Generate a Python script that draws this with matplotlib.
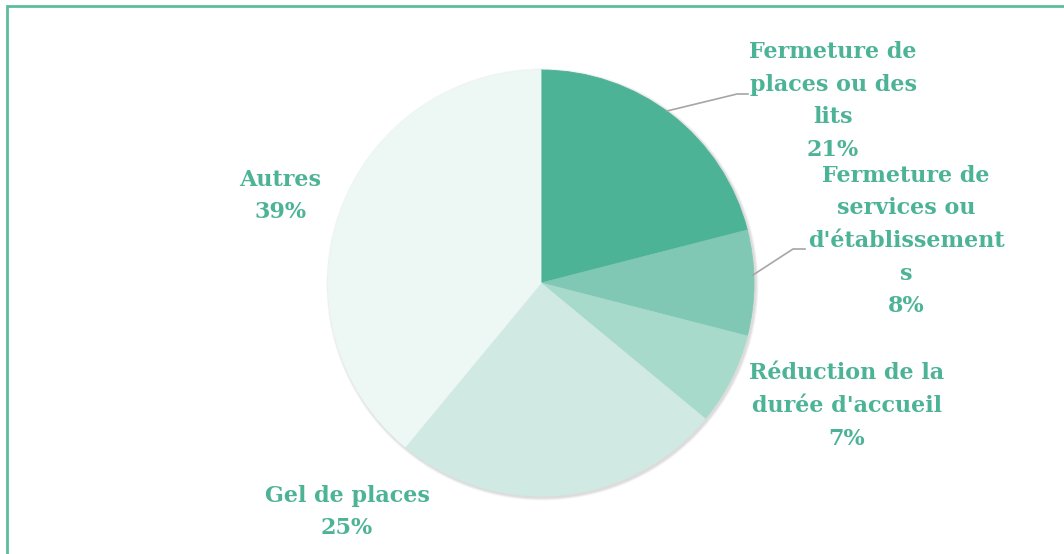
import matplotlib
matplotlib.use("Agg")
import matplotlib.pyplot as plt
from matplotlib.patches import Rectangle, Circle

categories = ["Fermeture de\nplaces ou des\nlits",
              "Fermeture de\nservices ou\nd'établissement\ns",
              "Réduction de la\ndurée d'accueil",
              "Gel de places",
              "Autres"]
values = [21, 8, 7, 25, 39]
colors = ["#4db396", "#80c8b3", "#a8dacb", "#d0eae3", "#edf7f4"]
text_color = "#4db396"

W, H = 1064, 554
fig = plt.figure(figsize=(W / 100, H / 100), dpi=100)
ax = fig.add_axes([0, 0, 1, 1])

# frame
fig.patches.append(Rectangle((6.5 / W, -0.1), 1.2, (H - 6.5) / H + 0.1,
                             transform=fig.transFigure, fill=False,
                             edgecolor="#5cbc9e", linewidth=2))

cx, cy, r = 541, H - 283, 213
# soft shadow behind the pie
for i, a in enumerate([0.05, 0.05, 0.04]):
    ax.add_patch(Circle((cx + 1.5, cy - 1.5), r + 1.0 + i, facecolor="#000000",
                        alpha=a, edgecolor="none", zorder=0))
wedges, _ = ax.pie(values, colors=colors, startangle=90, counterclock=False,
                   center=(cx, cy), radius=r, frame=True,
                   wedgeprops=dict(linewidth=0.6, antialiased=True))
for w, c in zip(wedges, colors):
    w.set_edgecolor(c)
    w.set_zorder(1)
ax.set_xlim(0, W)
ax.set_ylim(0, H)
ax.set_aspect("equal")
ax.axis("off")

# label centers (layout)
label_pos = [(833, 101), (906, 241), (847, 406), (347, 512), (280, 196)]
font = dict(family=["DejaVu Serif"], fontweight="bold", fontsize=16,
            color=text_color, ha="center", va="center", linespacing=1.62)
for cat, v, (x, y) in zip(categories, values, label_pos):
    ax.text(x, H - y, f"{cat}\n{v}%", **font)

# leader lines
lc = "#a6a6a6"
ax.plot([667, 737, 748], [H - 111, H - 94, H - 94], color=lc, lw=1.2, zorder=2)
ax.plot([753, 793, 805], [H - 275, H - 249, H - 249], color=lc, lw=1.2, zorder=2)

fig.savefig("out.png", dpi=100)
